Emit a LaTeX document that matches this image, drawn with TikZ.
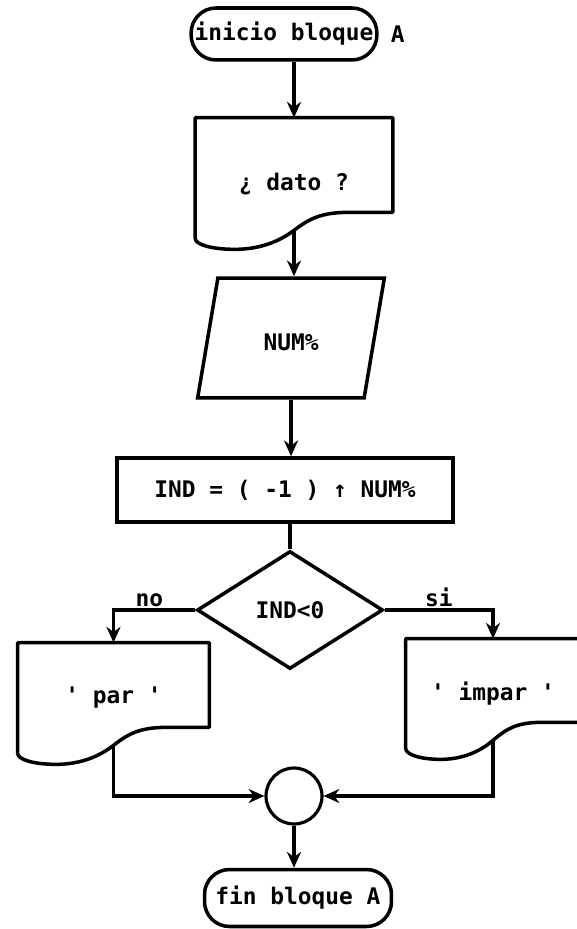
\documentclass[tikz,border=0pt]{standalone}
\usepackage{fontspec}
\setmonofont{DejaVu Sans Mono}
\usetikzlibrary{positioning,shapes.geometric,arrows.meta,calc}

\tikzset{
  term/.style={draw, line width=2pt, rounded corners=0.5cm, minimum width=3.68cm, minimum height=1.04cm, inner sep=2pt},
  docbox/.style={inner sep=2pt},
  iobox/.style={draw, line width=2pt, trapezium, trapezium left angle=76, trapezium right angle=104, trapezium stretches=true},
  procbox/.style={draw, line width=2pt, minimum width=6.72cm, minimum height=1.28cm},
  decbox/.style={draw, line width=2pt, diamond, minimum width=3.72cm, minimum height=2.36cm, inner sep=0pt},
  joincircle/.style={draw, line width=1.8pt, circle, minimum size=1.12cm},
  flow/.style={line width=1.8pt},
}

% outline of a document box, wavy bottom
\newcommand{\docoutline}[1]{%
  \draw[line width=2pt, line join=round]
    (#1.south west) -- (#1.north west) -- (#1.north east)
    -- ($(#1.south east)+(0,-26)$)
    -- ($(#1.south west)!0.78!(#1.south east)+(0,-26)$)
    .. controls ($(#1.south west)!0.64!(#1.south east)+(0,-26)$)
    and ($(#1.south west)!0.58!(#1.south east)+(0,-20)$)
    .. ($(#1.south west)!0.5!(#1.south east)+(0,-8)$)
    .. controls ($(#1.south west)!0.42!(#1.south east)+(0,4)$)
    and ($(#1.south west)!0.32!(#1.south east)+(0,11)$)
    .. ($(#1.south west)!0.2!(#1.south east)+(0,11)$)
    .. controls ($(#1.south west)!0.08!(#1.south east)+(0,11)$)
    and ($(#1.south west)+(0,6)$)
    .. (#1.south west);}

\begin{document}
\begin{tikzpicture}[x=0.02cm, y=-0.02cm, >={Stealth[length=9pt,width=8pt]},
  every node/.style={font=\ttfamily\bfseries\fontsize{13}{15}\selectfont}]

\useasboundingbox (0,0) rectangle (576,929);

% Blocks
\node[term] (inicio) at (284,34) {inicio bloque};
\node[right=0.12cm of inicio] (labA) {A};
\node[docbox, minimum width=3.94cm, minimum height=2.4cm, text height=0.6cm] (dato) at (294,178) {¿ dato ?};
\node[iobox, minimum width=3.74cm, minimum height=2.4cm, text height=0.5cm] (num) at (291,338) {NUM\%};
\node[procbox] (ind) at (285,490) {IND = ( -1 ) ↑ NUM\%};
\node[decbox] (dec) at (290,610) {IND<0};
\node[docbox, minimum width=3.82cm, minimum height=2.2cm] (par) at (113.5,698) {' par '};
\node[docbox, minimum width=3.48cm, minimum height=2.18cm] (impar) at (493,693.5) {' impar '};
\node[joincircle] (merge) at (294,796) {};
\node[term, minimum width=3.74cm, minimum height=1.14cm] (fin) at (298,898) {fin bloque A};

% Document outlines
\docoutline{dato}
\docoutline{par}
\docoutline{impar}

% Connectors
\draw[flow,->] (inicio.south -| dato.north) -- (dato.north);
\draw[flow,->] ($(dato.south)+(0,-8)$) -- (dato.south |- num.north);
\draw[flow,->] (num.south) -- (num.south |- ind.north);
\draw[flow] (ind.south -| dec.north) -- (dec.north);
\draw[flow,->] (dec.west) -| node[above, pos=0.28, inner sep=1pt] (lblno) {no} (par.north);
\draw[flow,->] (dec.east) -| node[above, pos=0.25, inner sep=1pt] (lblsi) {si} (impar.north);
\draw[flow,->] ($(par.south)+(0,-8)$) |- (merge.west);
\draw[flow,->] ($(impar.south)+(0,-8)$) |- (merge.east);
\draw[flow,->] (merge.south) -- (merge.south |- fin.north);

\end{tikzpicture}
\end{document}
